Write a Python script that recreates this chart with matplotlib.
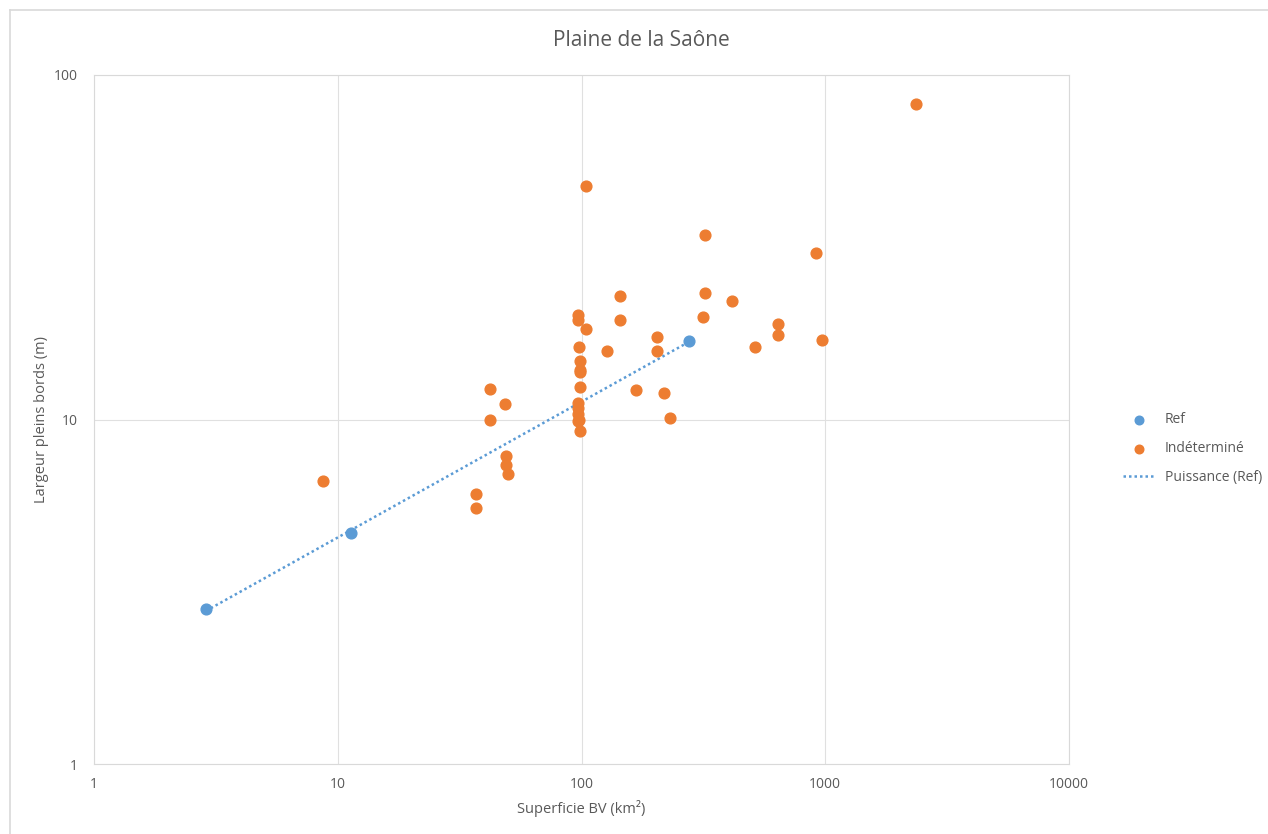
import matplotlib.pyplot as plt
import numpy as np

plt.rcParams['font.family'] = ['Open Sans', 'DejaVu Sans']

# Ref points
ref_x = [2.88, 11.3, 276]
ref_y = [2.82, 4.68, 16.9]

# Indéterminé points
ind_x = [2356, 104, 321, 916, 144, 321, 414, 96.8, 96.8, 144, 315, 104, 640, 640,
         204, 970, 97.5, 515, 127, 204, 98.6, 98.6, 98.6, 98.6, 42.1, 167, 218, 48.5,
         96.8, 96.8, 96.8, 97.5, 96.8, 98.6, 231, 42.1, 49, 49, 49.9, 8.7, 36.9, 36.9]
ind_y = [82.4, 47.6, 34.3, 30.4, 22.8, 23.3, 22.1, 20.1, 19.4, 19.4, 19.8, 18.3, 18.9, 17.6,
         17.3, 17.0, 16.2, 16.2, 15.8, 15.8, 14.8, 13.9, 13.7, 12.4, 12.3, 12.2, 11.9, 11.1,
         11.2, 10.8, 10.4, 9.96, 9.9, 9.26, 10.1, 9.95, 7.84, 7.38, 6.95, 6.63, 6.08, 5.53]

blue = '#5B9BD5'
orange = '#ED7D31'
grey_txt = '#595959'

fig = plt.figure(figsize=(12.68, 8.34), dpi=100)
ax = fig.add_axes([0.0741, 0.0839, 0.7690, 0.8262])

ax.set_xscale('log')
ax.set_yscale('log')
ax.set_xlim(1, 10000)
ax.set_ylim(1, 100)

ax.scatter(ref_x, ref_y, s=60, color=blue, zorder=3, label='Ref')
ax.scatter(ind_x, ind_y, s=60, color=orange, zorder=3, label='Indéterminé')

# power trendline on Ref
b, a = np.polyfit(np.log10(ref_x), np.log10(ref_y), 1)
xx = np.logspace(np.log10(min(ref_x)), np.log10(max(ref_x)), 100)
ax.plot(xx, 10 ** a * xx ** b, color=blue, linestyle=(0, (1, 1.2)), linewidth=1.8,
        zorder=2, label='Puissance (Ref)')

ax.set_xticks([1, 10, 100, 1000, 10000])
ax.set_xticklabels(['1', '10', '100', '1000', '10000'])
ax.set_yticks([1, 10, 100])
ax.set_yticklabels(['1', '10', '100'])
ax.minorticks_off()
ax.tick_params(axis='x', length=0, colors=grey_txt, labelsize=10, pad=9)
ax.tick_params(axis='y', length=0, colors=grey_txt, labelsize=10, pad=12)
ax.grid(True, color='#E0E0E0', linewidth=0.8)
ax.set_axisbelow(True)
for sp in ax.spines.values():
    sp.set_color('#D9D9D9')
    sp.set_linewidth(0.8)

fig.text(641 / 1268, 1 - 40 / 834, 'Plaine de la Saône', fontsize=15, color=grey_txt,
         ha='center', va='center')
ax.set_xlabel('Superficie BV (km²)', fontsize=10.5, color=grey_txt, labelpad=6)
ax.set_ylabel('Largeur pleins bords (m)', fontsize=10.5, color=grey_txt, labelpad=3)

fig.legend(loc='center left', bbox_to_anchor=(0.876, 0.462), frameon=False,
           fontsize=10, labelcolor=grey_txt, handlelength=2.2, labelspacing=1.0,
           scatterpoints=1, markerscale=0.8)

# outer chart border
fig.add_artist(plt.Line2D([10 / 1268, 1], [1 - 10 / 834, 1 - 10 / 834],
                          transform=fig.transFigure, color='#D9D9D9', linewidth=1.2))
fig.add_artist(plt.Line2D([10 / 1268, 10 / 1268], [0, 1 - 10 / 834],
                          transform=fig.transFigure, color='#D9D9D9', linewidth=1.2))

fig.savefig('out.png', dpi=100)
